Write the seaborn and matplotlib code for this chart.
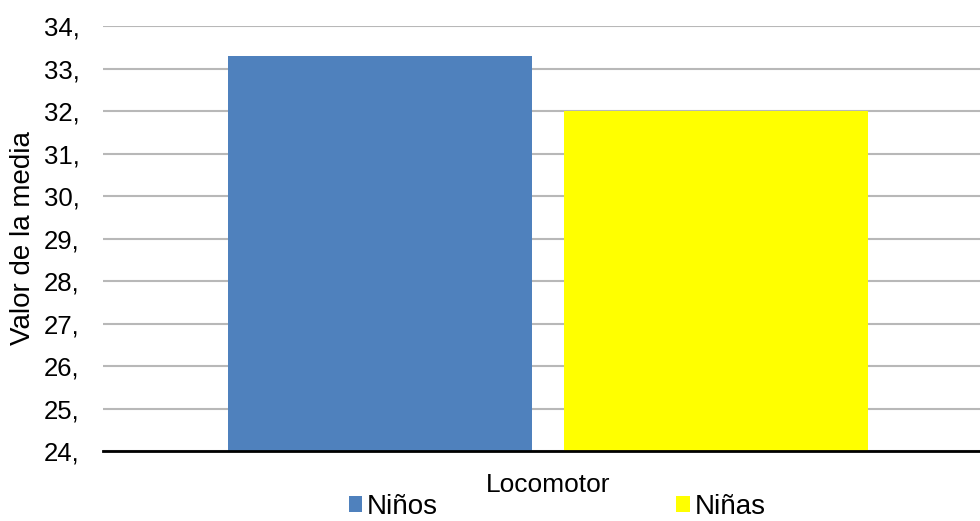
import matplotlib
matplotlib.use("Agg")
import matplotlib.pyplot as plt
import seaborn as sns
import pandas as pd
from matplotlib.patches import Patch

categories = ["Locomotor"]
groups = ["Niños", "Niñas"]
values = [33.3, 32.0]
yticks = [24, 25, 26, 27, 28, 29, 30, 31, 32, 33, 34]
ytick_labels = ["24,", "25,", "26,", "27,", "28,", "29,", "30,", "31,", "32,", "33,", "34,"]
colors = ["#4F81BD", "#FFFF00"]

df = pd.DataFrame({"cat": categories * len(groups), "grupo": groups, "valor": values})

sns.set_theme(style="white")
plt.rcParams["font.family"] = ["Liberation Sans", "DejaVu Sans"]

fig = plt.figure(figsize=(9.8, 5.21), dpi=100)
ax = fig.add_axes([103 / 980, 1 - 451 / 521, 890 / 980, (451 - 26) / 521])

sns.barplot(data=df, x="cat", y="valor", hue="grupo", palette=colors,
            width=0.754, gap=0.094, ax=ax, legend=False, saturation=1,
            linewidth=0, edgecolor="none")

ax.set_ylim(24, 34)
ax.set_yticks(yticks)
ax.set_yticklabels(ytick_labels, fontsize=18.5, color="black")
ax.tick_params(axis="x", labelsize=19, length=0, pad=16, labelcolor="black")
ax.tick_params(axis="y", length=0, pad=17)
ax.set_xlabel("")
ax.set_ylabel("Valor de la media", fontsize=20, color="black")
ax.yaxis.set_label_coords(-67 / 890, 0.5)
ax.yaxis.grid(True, color="#B8B8B8", linewidth=1.5)
ax.set_axisbelow(True)
for s in ["left", "right", "top"]:
    ax.spines[s].set_visible(False)
ax.spines["bottom"].set_color("black")
ax.spines["bottom"].set_linewidth(2)

handles = [Patch(facecolor=c, edgecolor="none") for c in colors]
fig.legend(handles, groups, loc="upper center", bbox_to_anchor=(557 / 980, 1 - 494 / 521),
           ncol=2, frameon=False, fontsize=20, columnspacing=8.6,
           handlelength=0.5, handleheight=0.5, handletextpad=0.15, borderaxespad=0,
           borderpad=0, labelcolor="black")

fig.savefig("out.png", dpi=100)
